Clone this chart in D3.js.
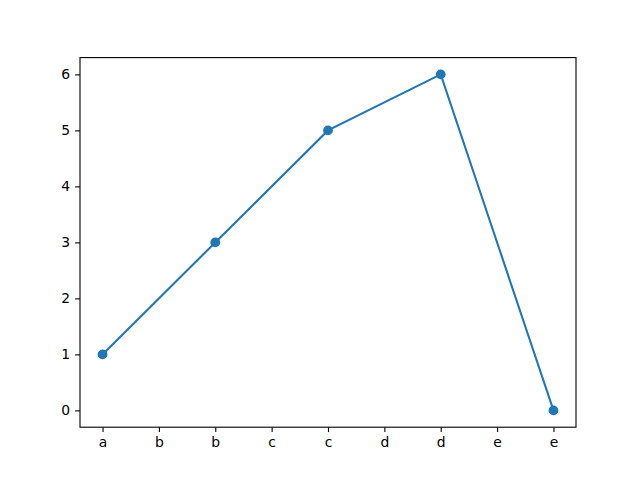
<!DOCTYPE html>
<html>
<head>
<meta charset="UTF-8">
<script src="https://cdn.jsdelivr.net/npm/d3@7"></script>
<style>
    body { margin: 0; background: #fff; }
    .axis text { font-family: "DejaVu Sans", sans-serif; font-size: 13.9px; fill: #000; }
    .axis line, .axis path { stroke: #000; stroke-width: 1.1; }
</style>
</head>
<body>
<div id="chart"></div>
<script>
// data
var xValues = [0, 1, 2, 3, 4];
var yValues = [1, 3, 5, 6, 0];
// tick positions and their labels (half steps)
var xTicks = [0, 0.5, 1, 1.5, 2, 2.5, 3, 3.5, 4];
var xTickLabels = ["a", "b", "b", "c", "c", "d", "d", "e", "e"];
var yTicks = [0, 1, 2, 3, 4, 5, 6];

var width = 640, height = 480;
var margin = { top: 57.6, right: 64, bottom: 52.8, left: 80 },
    w = width - margin.left - margin.right,
    h = height - margin.top - margin.bottom;

var x = d3.scaleLinear().domain([-0.2, 4.2]).range([0, w]);
var y = d3.scaleLinear().domain([-0.3, 6.3]).range([h, 0]);

var svg = d3.select("#chart").append("svg")
    .attr("width", width)
    .attr("height", height);

var graph = svg.append("g")
    .attr("transform", "translate(" + margin.left + "," + margin.top + ")");

// x axis
var xAxis = d3.axisBottom(x)
    .tickValues(xTicks)
    .tickFormat(function (d, i) { return xTickLabels[i]; })
    .tickSize(4.9).tickPadding(4.9).tickSizeOuter(0);
var gx = graph.append("g")
    .attr("class", "axis")
    .attr("transform", "translate(0," + h + ")")
    .call(xAxis);
gx.select(".domain").remove();

// y axis
var yAxis = d3.axisLeft(y)
    .tickValues(yTicks)
    .tickFormat(d3.format("d"))
    .tickSize(4.9).tickPadding(4.9).tickSizeOuter(0);
var gy = graph.append("g")
    .attr("class", "axis")
    .call(yAxis);
gy.select(".domain").remove();

// the line
var line = d3.line()
    .x(function (d, i) { return x(xValues[i]); })
    .y(function (d) { return y(d); });

graph.append("path")
    .attr("d", line(yValues))
    .attr("fill", "none")
    .attr("stroke", "#1f77b4")
    .attr("stroke-width", 2.08);

graph.selectAll("circle")
    .data(yValues)
    .enter().append("circle")
    .attr("cx", function (d, i) { return x(xValues[i]); })
    .attr("cy", function (d) { return y(d); })
    .attr("r", 4.2)
    .attr("fill", "#1f77b4")
    .attr("stroke", "#1f77b4")
    .attr("stroke-width", 1.4);

// frame on top
graph.append("rect")
    .attr("width", w)
    .attr("height", h)
    .attr("fill", "none")
    .attr("stroke", "#000")
    .attr("stroke-width", 1.1);
</script>
</body>
</html>
